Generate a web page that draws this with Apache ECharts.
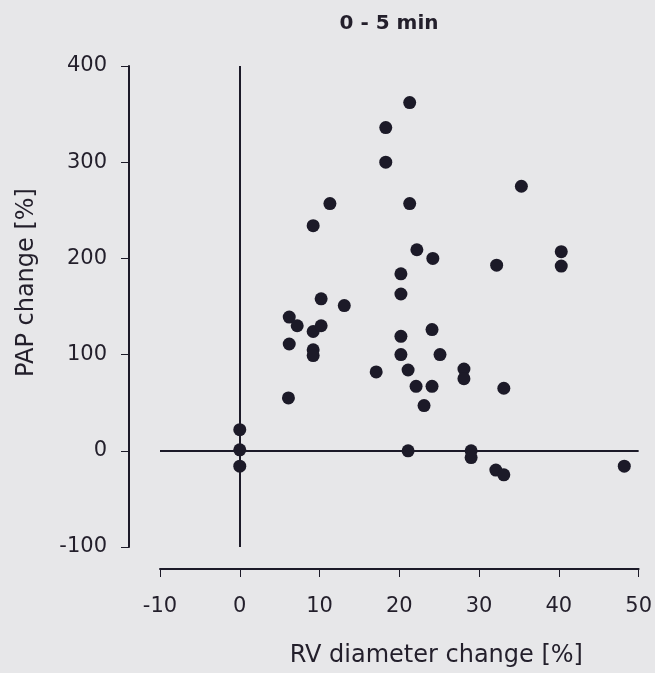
<!DOCTYPE html>
<html style="height: 100%">
<head>
    <meta charset="utf-8">
    <script src="https://cdn.jsdelivr.net/npm/echarts@6/dist/echarts.min.js"></script>
</head>
<body style="height: 100%; margin: 0; background: #e7e7e9">
<div id="container" style="width: 655px; height: 673px"></div>
<script type="text/javascript">
    // RV diameter change [%] and PAP change [%] per patient
    var rvChange = [
        18.3, 18.3, 11.3, 9.2, 21.3, 35.3, 21.3, 22.2, 24.2, 20.2,
        20.2, 32.2, 40.3, 40.3, 10.2, 13.1, 6.2, 7.2, 9.2, 10.2,
        6.2, 9.2, 9.2, 17.1, 6.1, 0, 0, 0, 20.2, 20.2,
        24.1, 25.1, 21.1, 28.1, 28.1, 22.1, 24.1, 33.1, 23.1, 21.1,
        29.0, 29.0, 32.1, 33.1, 48.2
    ];
    var papChange = [
        336, 300, 257, 234, 362, 275, 257, 209, 200, 184,
        163, 193, 207, 192, 158, 151, 139, 130, 124, 130,
        111, 105, 99, 82, 55, 22, 1, -16, 119, 100,
        126, 100, 84, 85, 75, 67, 67, 65, 47, 0,
        0, -7, -20, -25, -16
    ];
    var xTicks = { min: -10, max: 50, step: 10 };
    var yTicks = { min: -100, max: 400, step: 100 };

    var points = rvChange.map(function (x, i) {
        return [x, papChange[i]];
    });

    var ink = '#1c1a28';
    var textColor = '#231f2b';
    var font = 'DejaVu Sans, Verdana, sans-serif';

    var myChart = echarts.init(document.getElementById('container'), null, {renderer: 'canvas'});
    var option = {
        backgroundColor: '#e7e7e9',
        animation: false,
        title: {
            text: '0 - 5 min',
            left: 384,
            textAlign: 'center',
            top: 9,
            textStyle: {fontFamily: font, fontSize: 20, fontWeight: 'bold', color: textColor}
        },
        grid: {left: 160, right: 15, top: 66, bottom: 125},
        xAxis: {
            type: 'value',
            min: xTicks.min,
            max: xTicks.max,
            interval: xTicks.step,
            offset: 22,
            name: 'RV diameter change [%]',
            nameLocation: 'middle',
            nameGap: 75,
            nameTextStyle: {fontFamily: font, fontSize: 24, color: textColor, padding: [0, 0, 0, 74]},
            axisLine: {onZero: false, lineStyle: {color: ink, width: 2}},
            axisTick: {length: 8, lineStyle: {color: ink, width: 1}},
            axisLabel: {fontFamily: font, fontSize: 21, color: textColor, margin: 27},
            splitLine: {show: false}
        },
        yAxis: {
            type: 'value',
            min: yTicks.min,
            max: yTicks.max,
            interval: yTicks.step,
            offset: 31,
            name: 'PAP change [%]',
            nameLocation: 'middle',
            nameGap: 90,
            nameTextStyle: {fontFamily: font, fontSize: 24, color: textColor, padding: [0, 0, 0, 48]},
            axisLine: {onZero: false, lineStyle: {color: ink, width: 2}},
            axisTick: {length: 8, lineStyle: {color: ink, width: 1}},
            axisLabel: {fontFamily: font, fontSize: 21, color: textColor, margin: 22},
            splitLine: {show: false}
        },
        series: [{
            type: 'scatter',
            data: points,
            symbolSize: 13,
            itemStyle: {color: ink, opacity: 1},
            markLine: {
                silent: true,
                symbol: 'none',
                label: {show: false},
                lineStyle: {color: ink, width: 2, type: 'solid'},
                data: [
                    [{coord: [0, yTicks.min]}, {coord: [0, yTicks.max]}],
                    [{coord: [xTicks.min, 0]}, {coord: [xTicks.max, 0]}]
                ]
            }
        }]
    };
    myChart.setOption(option);
    window.addEventListener('resize', myChart.resize);
</script>
</body>
</html>
